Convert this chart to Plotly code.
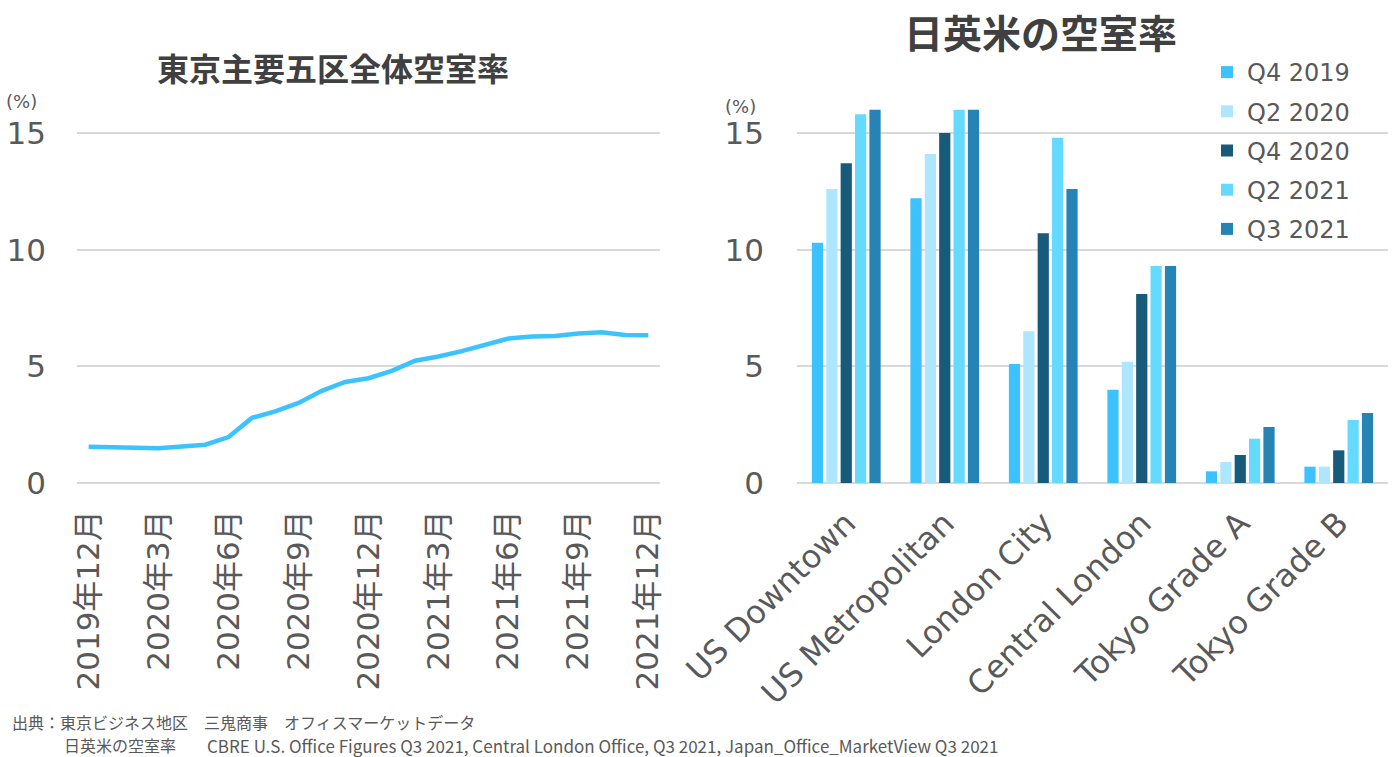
import plotly.graph_objects as go

# ---- Left chart data: 東京主要五区全体空室率 (monthly) ----
months = ["2019年12月", "2020年1月", "2020年2月", "2020年3月", "2020年4月", "2020年5月",
          "2020年6月", "2020年7月", "2020年8月", "2020年9月", "2020年10月", "2020年11月",
          "2020年12月", "2021年1月", "2021年2月", "2021年3月", "2021年4月", "2021年5月",
          "2021年6月", "2021年7月", "2021年8月", "2021年9月", "2021年10月", "2021年11月",
          "2021年12月"]
tokyo_vacancy = [1.55, 1.53, 1.48, 1.49, 1.56, 1.64, 1.97, 2.79, 3.07, 3.43, 3.95, 4.33,
                 4.49, 4.81, 5.24, 5.42, 5.65, 5.90, 6.19, 6.28, 6.30, 6.41, 6.46, 6.34, 6.33]
month_ticks = ["2019年12月", "2020年3月", "2020年6月", "2020年9月", "2020年12月",
               "2021年3月", "2021年6月", "2021年9月", "2021年12月"]

# ---- Right chart data: 日英米の空室率 ----
markets = ["US Downtown", "US Metropolitan", "London City", "Central London",
           "Tokyo Grade A", "Tokyo Grade B"]
q4_2019 = [10.3, 12.2, 5.1, 4.0, 0.5, 0.7]
q2_2020 = [12.6, 14.1, 6.5, 5.2, 0.9, 0.7]
q4_2020 = [13.7, 15.0, 10.7, 8.1, 1.2, 1.4]
q2_2021 = [15.8, 16.0, 14.8, 9.3, 1.9, 2.7]
q3_2021 = [16.0, 16.0, 12.6, 9.3, 2.4, 3.0]
series_names = ["Q4 2019", "Q2 2020", "Q4 2020", "Q2 2021", "Q3 2021"]
series_values = [q4_2019, q2_2020, q4_2020, q2_2021, q3_2021]
series_colors = ["#3CC3FF", "#AEE6FF", "#175A79", "#66D9FF", "#2683B5"]

FONT = "DejaVu Sans, Noto Sans CJK JP, sans-serif"
JP = "Noto Sans CJK JP, DejaVu Sans, sans-serif"
TXT = "#595959"
GRID = "#D9D9D9"

fig = go.Figure()

fig.add_trace(go.Scatter(
    x=months, y=tokyo_vacancy, mode="lines",
    line=dict(color="#3CC3FF", width=4.5),
    xaxis="x", yaxis="y", showlegend=False, hoverinfo="x+y"))

for name, vals, col in zip(series_names, series_values, series_colors):
    fig.add_trace(go.Bar(
        x=markets, y=vals, name=name, marker=dict(color=col, line=dict(width=0)),
        xaxis="x2", yaxis="y2", legendgroup=name))

YBOT = (757 - 483) / 757
YTOP = (757 - 105) / 757

fig.update_layout(
    width=1395, height=757,
    margin=dict(l=0, r=0, t=0, b=0, autoexpand=False),
    paper_bgcolor="white", plot_bgcolor="white",
    font=dict(family=FONT, color=TXT),
    barmode="group", bargap=0.27, bargroupgap=0.22,
    xaxis=dict(domain=[77 / 1395, 660 / 1395], anchor="y", type="category",
               range=[-0.5, 24.5], tickvals=month_ticks, ticktext=month_ticks,
               tickangle=-90, tickfont=dict(size=31, color=TXT, family=FONT),
               showgrid=False, showline=False, ticks="", automargin=False,
               ticklabelstandoff=20),
    yaxis=dict(domain=[YBOT, YTOP], anchor="x", range=[0, 16.2],
               tickvals=[0, 5, 10, 15], tickfont=dict(size=31, color=TXT, family=FONT),
               showgrid=True, gridcolor=GRID, gridwidth=1.5, zeroline=True,
               zerolinecolor=GRID, zerolinewidth=1.5, showline=False, ticks="",
               ticklabelstandoff=30, automargin=False),
    xaxis2=dict(domain=[797 / 1395, 1388 / 1395], anchor="y2", type="category",
                tickangle=-45, tickfont=dict(size=32, color=TXT, family=FONT),
                showgrid=False, showline=False, ticks="", automargin=False,
                ticklabelstandoff=14),
    yaxis2=dict(domain=[YBOT, YTOP], anchor="x2", range=[0, 16.2],
                tickvals=[0, 5, 10, 15], tickfont=dict(size=31, color=TXT, family=FONT),
                showgrid=True, gridcolor=GRID, gridwidth=1.5, zeroline=True,
                zerolinecolor=GRID, zerolinewidth=1.5, showline=False, ticks="",
                ticklabelstandoff=32, automargin=False),
    legend=dict(x=1207 / 1395, y=1 - 50 / 757, xanchor="left", yanchor="top",
                font=dict(size=24, color=TXT, family=FONT), tracegroupgap=5,
                bgcolor="rgba(0,0,0,0)", itemwidth=30),
    showlegend=True,
)

ann = [
    dict(text="<b>東京主要五区全体空室率</b>", x=333, y=67, size=32, fam=JP, color="#404040"),
    dict(text="<b>日英米の空室率</b>", x=1040, y=31, size=39, fam=JP, color="#404040"),
]
for a in ann:
    fig.add_annotation(text=a["text"], x=a["x"] / 1395, y=1 - a["y"] / 757, xref="paper",
                       yref="paper", showarrow=False, xanchor="center", yanchor="middle",
                       font=dict(size=a["size"], family=a["fam"], color=a["color"]))

for txt, x, y in [("(%)", 21, 101), ("(%)", 741, 106)]:
    fig.add_annotation(text=txt, x=x / 1395, y=1 - y / 757, xref="paper", yref="paper",
                       showarrow=False, xanchor="center", yanchor="middle",
                       font=dict(size=18, family=FONT, color=TXT))

footer = [
    ("出典：東京ビジネス地区　三鬼商事　オフィスマーケットデータ", 10, 722, 16),
    ("日英米の空室率", 62, 745, 16),
    ("CBRE U.S. Office Figures Q3 2021, Central London Office, Q3 2021, Japan_Office_MarketView Q3 2021", 205, 745, 17),
]
for txt, x, y, s in footer:
    fig.add_annotation(text=txt, x=x / 1395, y=1 - y / 757, xref="paper", yref="paper",
                       showarrow=False, xanchor="left", yanchor="middle",
                       font=dict(size=s, family=JP, color=TXT))

fig.write_html("out.html", config={"displayModeBar": False},
               post_script="document.body.style.margin='0';document.body.style.overflow='hidden';")
